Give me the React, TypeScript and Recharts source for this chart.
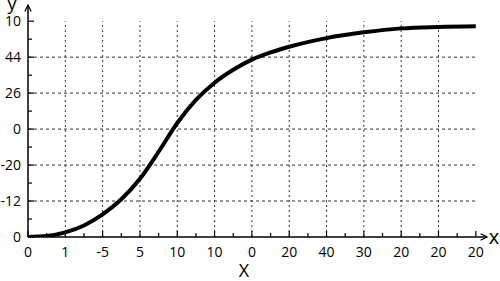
import React from "react";
import { LineChart, Line, XAxis, YAxis, ReferenceLine } from "recharts";

const xTickLabels = ["0", "1", "-5", "5", "10", "10", "0", "20", "40", "30", "20", "20", "20"];
const yTickLabels = ["0", "-12", "-20", "0", "26", "44", "10"];

const curveX = [0, 0.5, 1, 1.5, 2, 2.5, 3, 3.5, 4, 4.5, 5, 5.5, 6, 6.5, 7, 8, 9, 10, 11, 12];
const curveY = [0, 0.03, 0.13, 0.32, 0.63, 1.05, 1.62, 2.37, 3.17, 3.81, 4.29, 4.65, 4.93, 5.13, 5.29, 5.53, 5.69, 5.8, 5.84, 5.86];

const gridX = [1, 2, 3, 4, 5, 6, 7, 8, 9, 10, 11];
const gridY = [1, 2, 3, 4, 5];

const xTicks = Array.from({ length: 25 }, (_, i) => i / 2);
const yTicks = Array.from({ length: 13 }, (_, i) => i / 2);

const data = curveX.map((x, i) => ({ x, y: curveY[i] }));

const FONT = "'Open Sans', 'Liberation Sans', sans-serif";

const XTick = (props: any) => {
  const { x, y, payload } = props;
  const v = payload.value;
  const major = Number.isInteger(v);
  return (
    <g>
      <line x1={x} x2={x} y1={y} y2={y - (major ? 6 : 4)} stroke="#000" strokeWidth={1.2} />
      {major && (
        <text x={x} y={y + 20} textAnchor="middle" fontSize={14} fontFamily={FONT} fill="#000">
          {xTickLabels[v]}
        </text>
      )}
    </g>
  );
};

const YTick = (props: any) => {
  const { x, y, payload } = props;
  const v = payload.value;
  const major = Number.isInteger(v);
  return (
    <g>
      <line x1={x} x2={x + (major ? 6 : 4)} y1={y} y2={y} stroke="#000" strokeWidth={1.2} />
      {major && (
        <text x={x - 7} y={y + 5} textAnchor="end" fontSize={14} fontFamily={FONT} fill="#000">
          {yTickLabels[v]}
        </text>
      )}
    </g>
  );
};

export default function App() {
  return (
    <div style={{ position: "absolute", left: 0, top: 0, width: 500, height: 281, background: "#fff" }}>
      <LineChart width={500} height={281} data={data} margin={{ top: 5, right: 13, bottom: 0, left: 0 }}>
        <defs>
          <marker id="arrowHead" viewBox="0 0 10 10" refX="9" refY="5" markerWidth="8" markerHeight="8" markerUnits="userSpaceOnUse" orient="auto-start-reverse">
            <path d="M1,1 L9,5 L1,9" fill="none" stroke="#000" strokeWidth={1.5} />
          </marker>
        </defs>
        <XAxis
          type="number"
          dataKey="x"
          domain={[0, 12.3]}
          ticks={xTicks}
          interval={0}
          height={44}
          tickSize={0}
          tickMargin={0}
          tick={<XTick />}
          axisLine={{ stroke: "#000", strokeWidth: 1.5, markerEnd: "url(#arrowHead)" }}
          allowDataOverflow
        />
        <YAxis
          type="number"
          domain={[0, 6.45]}
          ticks={yTicks}
          interval={0}
          width={28}
          tickSize={0}
          tickMargin={0}
          tick={<YTick />}
          axisLine={{ stroke: "#000", strokeWidth: 1.5, markerStart: "url(#arrowHead)" }}
          allowDataOverflow
        />
        {gridX.map((v) => (
          <ReferenceLine
            key={"gx" + v}
            segment={[{ x: v, y: 0 }, { x: v, y: 6 }]}
            stroke="#333"
            strokeWidth={1}
            strokeDasharray="2 3"
            ifOverflow="visible"
          />
        ))}
        {gridY.map((v) => (
          <ReferenceLine
            key={"gy" + v}
            segment={[{ x: 0, y: v }, { x: 12, y: v }]}
            stroke="#333"
            strokeWidth={1}
            strokeDasharray="3 3"
            ifOverflow="visible"
          />
        ))}
        <Line
          type="monotone"
          dataKey="y"
          stroke="#000"
          strokeWidth={4}
          dot={false}
          isAnimationActive={false}
        />
        <text x={12} y={10} textAnchor="middle" fontSize={18} fontFamily={FONT} fill="#000">y</text>
        <text x={494} y={244} textAnchor="middle" fontSize={20} fontFamily={FONT} fill="#000">x</text>
        <text x={244} y={277} textAnchor="middle" fontSize={18} fontFamily={FONT} fill="#000">X</text>
      </LineChart>
    </div>
  );
}
